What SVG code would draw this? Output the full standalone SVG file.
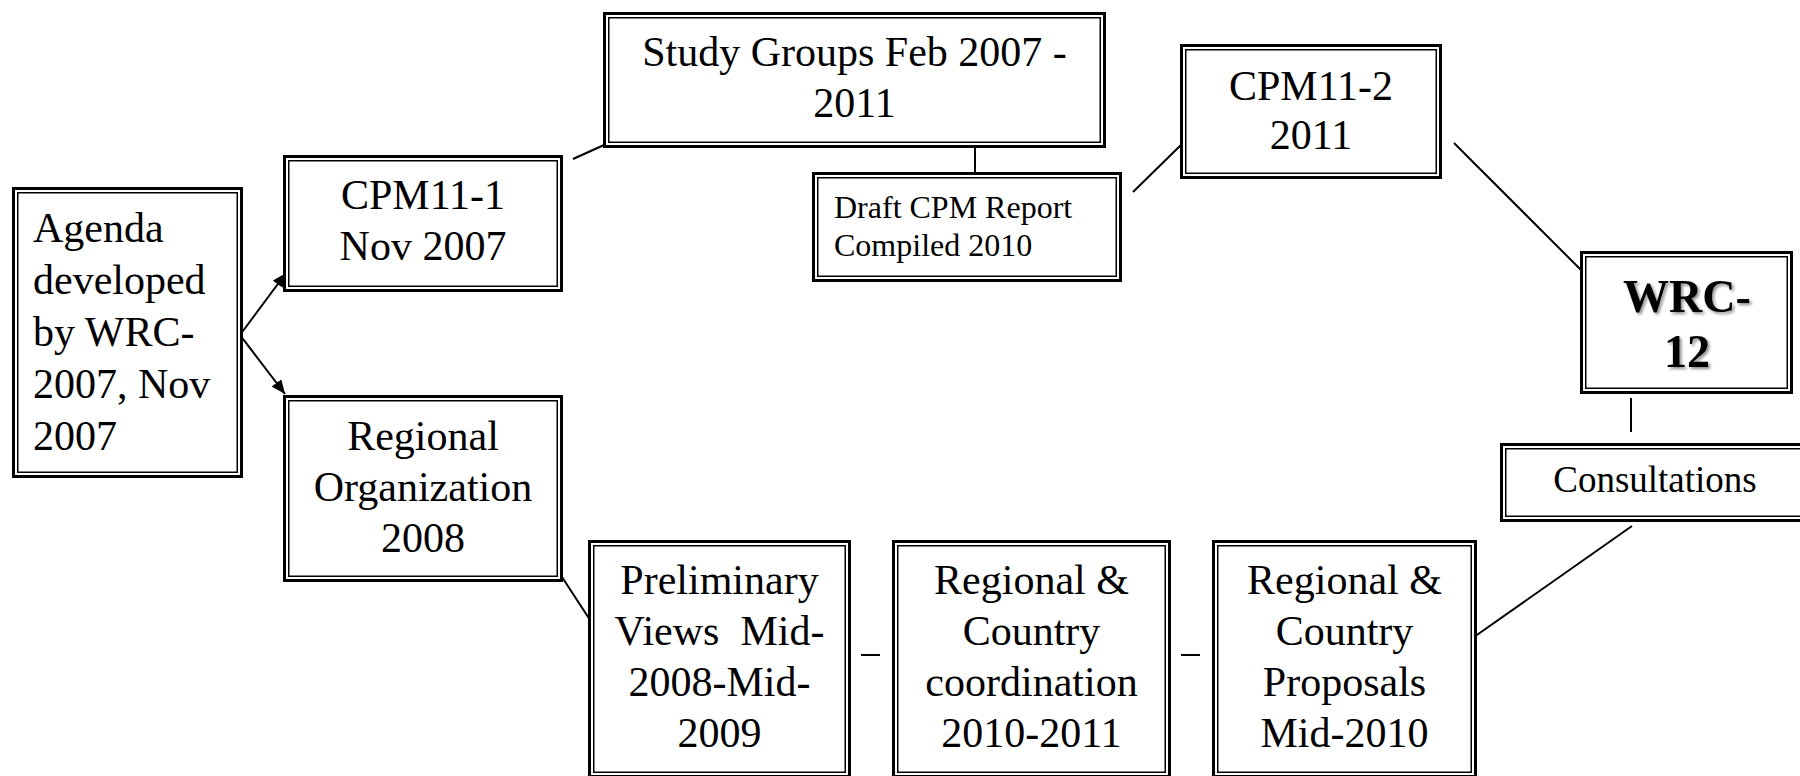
<svg xmlns="http://www.w3.org/2000/svg" width="1800" height="776" viewBox="0 0 1800 776">
<style>
  .o { fill: #fff; stroke: #000; stroke-width: 3; }
  .i { fill: none; stroke: #000; stroke-width: 1.5; }
  .t { font-family: "Liberation Serif", "Times New Roman", serif; font-size: 42px; fill: #000; }
  .c { text-anchor: middle; }
  .s { font-size: 32px; }
  .m { font-size: 37px; }
  .b { font-weight: bold; font-size: 46px; }
  .ln { stroke: #000; stroke-width: 2; fill: none; }
</style>
<defs>
  <marker id="ah" markerUnits="userSpaceOnUse" markerWidth="16" markerHeight="12" refX="14" refY="6" orient="auto">
    <path d="M0,0 L14,6 L0,12 Z" fill="#000"/>
  </marker>
  <filter id="sh" x="-20%" y="-20%" width="140%" height="140%">
    <feDropShadow dx="2" dy="2" stdDeviation="1.5" flood-color="#000" flood-opacity="0.45"/>
  </filter>
</defs>
<rect width="1800" height="776" fill="#fff"/>

<g id="connectors">
  <line class="ln" x1="240" y1="335" x2="286" y2="273" marker-end="url(#ah)"/>
  <line class="ln" x1="240" y1="335" x2="285" y2="394" marker-end="url(#ah)"/>
  <line class="ln" x1="573" y1="159" x2="604" y2="145"/>
  <line class="ln" x1="975" y1="147" x2="975" y2="172"/>
  <line class="ln" x1="1133" y1="192" x2="1183" y2="143"/>
  <line class="ln" x1="1454" y1="143" x2="1583" y2="272"/>
  <line class="ln" x1="1631" y1="398" x2="1631" y2="432"/>
  <line class="ln" x1="1632" y1="526" x2="1474" y2="637"/>
  <line class="ln" x1="562" y1="577" x2="592" y2="623"/>
  <line class="ln" x1="861" y1="655" x2="880" y2="655"/>
  <line class="ln" x1="1181" y1="655" x2="1200" y2="655"/>
</g>

<g id="agenda">
  <rect class="o" x="13.5" y="188.5" width="228" height="288"/>
  <rect class="i" x="17.75" y="192.75" width="219.5" height="279.5"/>
  <text class="t" x="33" y="242">Agenda</text>
  <text class="t" x="33" y="294">developed</text>
  <text class="t" x="33" y="346">by WRC-</text>
  <text class="t" x="33" y="398">2007, Nov</text>
  <text class="t" x="33" y="450">2007</text>
</g>

<g id="cpm11-1">
  <rect class="o" x="284.5" y="156.5" width="277" height="134"/>
  <rect class="i" x="288.75" y="160.75" width="268.5" height="125.5"/>
  <text class="t c" x="423" y="209">CPM11-1</text>
  <text class="t c" x="423" y="260">Nov 2007</text>
</g>

<g id="study-groups">
  <rect class="o" x="604.5" y="13.5" width="500" height="133"/>
  <rect class="i" x="608.75" y="17.75" width="491.5" height="124.5"/>
  <text class="t c" x="854.5" y="66">Study Groups Feb 2007 -</text>
  <text class="t c" x="854.5" y="117">2011</text>
</g>

<g id="draft-cpm">
  <rect class="o" x="813.5" y="173.5" width="307" height="107"/>
  <rect class="i" x="817.75" y="177.75" width="298.5" height="98.5"/>
  <text class="t s" x="834" y="218">Draft CPM Report</text>
  <text class="t s" x="834" y="256">Compiled 2010</text>
</g>

<g id="cpm11-2">
  <rect class="o" x="1181.5" y="45.5" width="259" height="132"/>
  <rect class="i" x="1185.75" y="49.75" width="250.5" height="123.5"/>
  <text class="t c" x="1311" y="100">CPM11-2</text>
  <text class="t c" x="1311" y="149">2011</text>
</g>

<g id="wrc-12">
  <rect class="o" x="1581.5" y="252.5" width="210" height="140"/>
  <rect class="i" x="1585.75" y="256.75" width="201.5" height="131.5"/>
  <g filter="url(#sh)">
    <text class="t c b" x="1687" y="312">WRC-</text>
    <text class="t c b" x="1687" y="367">12</text>
  </g>
</g>

<g id="consultations">
  <rect class="o" x="1501.5" y="444.5" width="307" height="76"/>
  <rect class="i" x="1505.75" y="448.75" width="298.5" height="67.5"/>
  <text class="t c m" x="1655" y="492">Consultations</text>
</g>

<g id="regional-organization">
  <rect class="o" x="284.5" y="396.5" width="277" height="184"/>
  <rect class="i" x="288.75" y="400.75" width="268.5" height="175.5"/>
  <text class="t c" x="423" y="450">Regional</text>
  <text class="t c" x="423" y="501">Organization</text>
  <text class="t c" x="423" y="552">2008</text>
</g>

<g id="preliminary-views">
  <rect class="o" x="589.5" y="541.5" width="260" height="235"/>
  <rect class="i" x="593.75" y="545.75" width="251.5" height="226.5"/>
  <text class="t c" x="719.5" y="594">Preliminary</text>
  <text class="t c" x="719.5" y="645" xml:space="preserve">Views  Mid-</text>
  <text class="t c" x="719.5" y="696">2008-Mid-</text>
  <text class="t c" x="719.5" y="747">2009</text>
</g>

<g id="regional-country-coordination">
  <rect class="o" x="893.5" y="541.5" width="276" height="235"/>
  <rect class="i" x="897.75" y="545.75" width="267.5" height="226.5"/>
  <text class="t c" x="1031.5" y="594">Regional &amp;</text>
  <text class="t c" x="1031.5" y="645">Country</text>
  <text class="t c" x="1031.5" y="696">coordination</text>
  <text class="t c" x="1031.5" y="747">2010-2011</text>
</g>

<g id="regional-country-proposals">
  <rect class="o" x="1213.5" y="541.5" width="262" height="235"/>
  <rect class="i" x="1217.75" y="545.75" width="253.5" height="226.5"/>
  <text class="t c" x="1344.5" y="594">Regional &amp;</text>
  <text class="t c" x="1344.5" y="645">Country</text>
  <text class="t c" x="1344.5" y="696">Proposals</text>
  <text class="t c" x="1344.5" y="747">Mid-2010</text>
</g>
</svg>
